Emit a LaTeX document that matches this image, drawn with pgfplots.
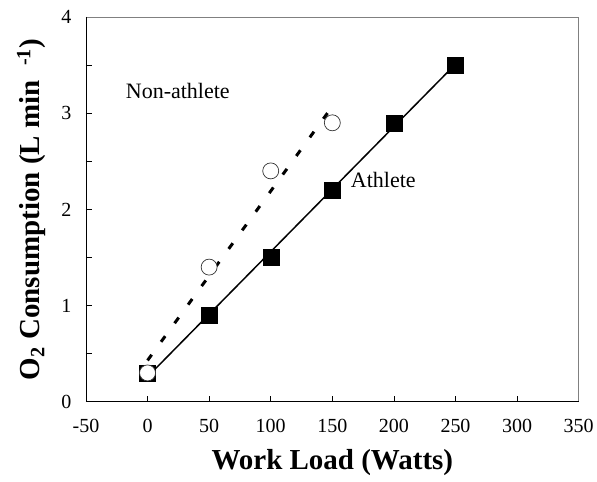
\documentclass[border=0pt]{standalone}
\usepackage{pgfplots}
\pgfplotsset{compat=1.18}
\usepackage{fontspec}
\setmainfont{Liberation Serif}
\begin{document}
\begin{tikzpicture}
\begin{axis}[name=ax,
  scale only axis, width=493pt, height=385pt,
  xmin=-50, xmax=350, ymin=0, ymax=4,
  xtick={-50,0,50,100,150,200,250,300,350},
  xticklabels={-50,0,50,100,150,200,250,300,350},
  ytick={0,1,2,3,4}, yticklabels={0,1,2,3,4},
  minor ytick={0.5,1.5,2.5,3.5},
  xtick pos=left, ytick pos=left,
  tick align=inside, major tick length=6pt, minor tick length=6pt,
  tick style={black, line width=0.8pt},
  axis line style={black!50, line width=0.8pt},
  ticklabel style={font=\fontsize{20}{24}\selectfont},
  xticklabel style={yshift=-14pt},
  yticklabel style={xshift=-11pt},
  xlabel={Work Load (Watts)},
  ylabel={O\textsubscript{2} Consumption (L min\ \ \textsuperscript{-1})},
  label style={font=\fontsize{29}{32}\selectfont\bfseries},
  xlabel style={at={(axis description cs:0.5,-0.158)}, anchor=center},
  ylabel style={at={(axis description cs:-0.111,0.5)}, anchor=center},
  clip=false,
]
\draw[black, line width=0.8pt] (rel axis cs:0,1) -- (rel axis cs:0,0) -- (rel axis cs:1,0);
% regression lines
\addplot[black, line width=1.5pt, no marks] coordinates {(0,0.26) (250,3.51)};
\addplot[black, line width=3pt, dash pattern=on 7pt off 16pt, no marks] coordinates {(0,0.43) (150,3.07)};
% athlete
\addplot[only marks, mark=square*, mark size=8pt, mark options={fill=black, draw=black}]
  coordinates {(0,0.3) (50,0.9) (100,1.5) (150,2.2) (200,2.9) (250,3.5)};
% non-athlete
\addplot[only marks, mark=*, mark size=8pt, mark options={fill=white, draw=black!80, line width=0.7pt}]
  coordinates {(0,0.3) (50,1.4) (100,2.4) (150,2.9)};
\node[anchor=west, inner sep=0pt, font=\fontsize{22}{26}\selectfont] at (axis cs:-17.7,3.23) {Non-athlete};
\node[anchor=west, inner sep=0pt, font=\fontsize{22}{26}\selectfont] at (axis cs:165,2.31) {Athlete};
\end{axis}
\path ([shift={(-86pt,-80pt)}]ax.south west) rectangle ([shift={(18pt,17pt)}]ax.north east);
\end{tikzpicture}
\end{document}
